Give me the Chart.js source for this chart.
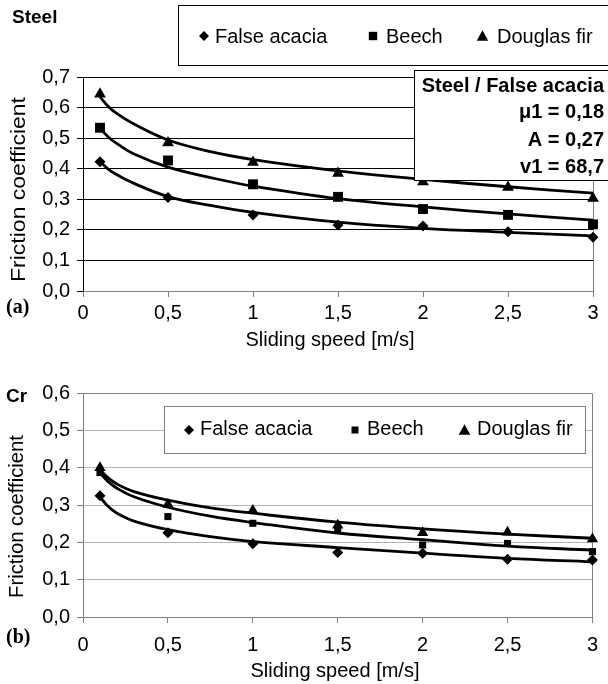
<!DOCTYPE html>
<html>
<head>
<meta charset="utf-8">
<script src="https://cdn.jsdelivr.net/npm/chart.js@4.4.1/dist/chart.umd.min.js"></script>
<style>
  html, body { margin: 0; padding: 0; background: #fff; }
  #wrap { position: relative; width: 608px; height: 684px; }
  canvas { position: absolute; left: 0; }
</style>
</head>
<body>
<div id="wrap">
  <canvas id="steelChart" width="608" height="352" style="top:0"></canvas>
  <canvas id="crChart" width="608" height="332" style="top:352px"></canvas>
</div>
<script>
// measured points
const speeds = [0.1, 0.5, 1, 1.5, 2, 2.5, 3];
const xTicks = [0, 0.5, 1, 1.5, 2, 2.5, 3];
const seriesNames = ['False acacia', 'Beech', 'Douglas fir'];
const seriesMarkers = ['rectRot', 'rect', 'triangle'];

const steelAcacia  = [0.423, 0.306, 0.249, 0.216, 0.213, 0.194, 0.176];
const steelBeech   = [0.534, 0.427, 0.349, 0.308, 0.268, 0.249, 0.218];
const steelDouglas = [0.644, 0.485, 0.421, 0.385, 0.357, 0.339, 0.303];

const crAcacia  = [0.325, 0.226, 0.196, 0.173, 0.171, 0.155, 0.153];
const crBeech   = [0.387, 0.269, 0.251, 0.233, 0.193, 0.197, 0.175];
const crDouglas = [0.400, 0.302, 0.285, 0.246, 0.226, 0.227, 0.209];

// fitted curves at these speeds
const curveSpeeds = [0.1, 0.15, 0.2, 0.3, 0.5, 0.75, 1, 1.5, 2, 2.5, 3];
const steelAcaciaFit  = [0.423, 0.398, 0.380, 0.352, 0.309, 0.280, 0.257, 0.225, 0.205, 0.192, 0.180];
const steelBeechFit   = [0.532, 0.503, 0.482, 0.448, 0.405, 0.371, 0.343, 0.302, 0.275, 0.252, 0.232];
const steelDouglasFit = [0.635, 0.603, 0.580, 0.546, 0.494, 0.456, 0.430, 0.393, 0.365, 0.341, 0.320];
const crAcaciaFit  = [0.322, 0.295, 0.278, 0.257, 0.234, 0.215, 0.202, 0.186, 0.171, 0.157, 0.148];
const crBeechFit   = [0.386, 0.362, 0.345, 0.322, 0.294, 0.270, 0.253, 0.225, 0.207, 0.190, 0.179];
const crDouglasFit = [0.394, 0.372, 0.356, 0.336, 0.313, 0.292, 0.278, 0.254, 0.236, 0.222, 0.211];

const steelYMax = 0.7;
const crYMax = 0.6;
const steelNote = ['Steel / False acacia', 'μ1 = 0,18', 'A = 0,27', 'v1 = 68,7'];

const FONT = '"Liberation Sans", Arial, sans-serif';

function toPoints(xs, ys) {
  return xs.map((x, i) => ({ x: x, y: ys[i] }));
}

function markerSet(values, sizes) {
  return values.map((vals, i) => ({
    label: seriesNames[i],
    data: toPoints(speeds, vals),
    showLine: false,
    pointStyle: seriesMarkers[i],
    pointRadius: sizes[i],
    pointBackgroundColor: '#000',
    pointBorderColor: '#000',
    pointBorderWidth: 0,
    clip: false
  }));
}

function curveSet(values) {
  return values.map((vals, i) => ({
    label: seriesNames[i] + ' fit',
    data: toPoints(curveSpeeds, vals),
    showLine: true,
    pointRadius: 0,
    borderColor: '#000',
    borderWidth: 2.8,
    tension: 0.4,
    clip: false
  }));
}

function drawMarker(ctx, style, x, y, r) {
  ctx.beginPath();
  if (style === 'rectRot') {
    ctx.moveTo(x, y - r); ctx.lineTo(x + r, y); ctx.lineTo(x, y + r); ctx.lineTo(x - r, y);
  } else if (style === 'rect') {
    ctx.rect(x - r, y - r, 2 * r, 2 * r);
  } else {
    ctx.moveTo(x, y - r * 1.05); ctx.lineTo(x + r * 1.05, y + r * 0.85); ctx.lineTo(x - r * 1.05, y + r * 0.85);
  }
  ctx.closePath();
  ctx.fill();
}

function extras(o) {
  return {
    id: 'extras',
    beforeDatasetsDraw(chart) {
      const ctx = chart.ctx, a = chart.chartArea;
      ctx.save();
      ctx.strokeStyle = o.frameColor;
      ctx.lineWidth = 1;
      ctx.beginPath();
      const r = Math.round(a.right) + 0.5;
      ctx.moveTo(r, Math.round(a.top) + 0.5);
      ctx.lineTo(r, Math.round(a.bottom) + 6);
      if (o.topBorder) {
        ctx.moveTo(Math.round(a.left), Math.round(a.top) + 0.5);
        ctx.lineTo(r, Math.round(a.top) + 0.5);
      }
      ctx.stroke();
      ctx.restore();
    },
    afterDatasetsDraw(chart) {
      const ctx = chart.ctx;
      ctx.save();

      // legend box
      const lb = o.legend.box;
      ctx.fillStyle = '#fff';
      ctx.fillRect(lb[0], lb[1], lb[2], lb[3]);
      ctx.strokeStyle = o.legend.border;
      ctx.lineWidth = 1;
      ctx.strokeRect(lb[0] + 0.5, lb[1] + 0.5, lb[2], lb[3]);
      ctx.fillStyle = '#000';
      ctx.font = '20px ' + FONT;
      ctx.textAlign = 'left';
      ctx.textBaseline = 'alphabetic';
      o.legend.items.forEach((it, i) => {
        drawMarker(ctx, seriesMarkers[i], it.mx, o.legend.my, it.r);
        ctx.fillText(seriesNames[i], it.tx, o.legend.ty);
      });

      // note box
      if (o.note) {
        const nb = o.note.box;
        ctx.fillStyle = '#fff';
        ctx.fillRect(nb[0], nb[1], nb[2], nb[3]);
        ctx.strokeStyle = '#000';
        ctx.strokeRect(nb[0] + 0.5, nb[1] + 0.5, nb[2], nb[3]);
        ctx.fillStyle = '#000';
        ctx.font = 'bold 20px ' + FONT;
        ctx.textAlign = 'right';
        o.note.lines.forEach((t, i) => ctx.fillText(t, o.note.x, o.note.ys[i]));
      }

      // corner label and panel tag
      ctx.textAlign = 'left';
      ctx.font = 'bold 19px ' + FONT;
      ctx.fillText(o.corner.text, o.corner.x, o.corner.y);
      ctx.font = 'bold 20px "Liberation Serif", "Times New Roman", serif';
      ctx.fillText(o.tag.text, o.tag.x, o.tag.y);

      // axis titles
      ctx.font = '20px ' + FONT;
      ctx.textAlign = 'center';
      ctx.fillText('Sliding speed [m/s]', o.xTitle.x, o.xTitle.y);
      ctx.translate(o.yTitle.x, o.yTitle.y);
      ctx.rotate(-Math.PI / 2);
      const w = ctx.measureText('Friction coefficient').width;
      ctx.scale(o.yTitle.len / w, 1);
      ctx.fillText('Friction coefficient', 0, 0);
      ctx.restore();
    }
  };
}

function makeChart(id, markers, curves, yMax, o) {
  const ctx = document.getElementById(id).getContext('2d');
  return new Chart(ctx, {
    type: 'scatter',
    data: { datasets: markers.concat(curves) },
    plugins: [extras(o)],
    options: {
      responsive: false,
      animation: false,
      events: [],
      layout: { padding: { left: 0, right: 15, top: o.top, bottom: o.bottom } },
      plugins: { legend: { display: false }, tooltip: { enabled: false } },
      scales: {
        x: {
          type: 'linear', min: 0, max: 3,
          afterBuildTicks: s => { s.ticks = xTicks.map(v => ({ value: v })); },
          afterFit: s => { s.height = o.xh; },
          ticks: {
            color: '#000', font: { family: FONT, size: 20 }, padding: o.xPad, maxRotation: 0,
            callback: v => v === 0 ? '0' : String(v).replace('.', ',')
          },
          grid: { drawOnChartArea: false, drawTicks: true, tickLength: 6, color: o.axisColor },
          border: { display: true, color: o.axisColor, width: 1 }
        },
        y: {
          min: 0, max: yMax,
          afterFit: s => { s.width = 83; },
          ticks: {
            stepSize: 0.1, color: '#000', font: { family: FONT, size: 20 }, padding: 7,
            callback: v => v.toFixed(1).replace('.', ',')
          },
          grid: {
            color: c => (c.tick && c.tick.value === 0) ? o.axisColor : o.gridColor,
            tickColor: o.yAxisColor, tickLength: 6, lineWidth: 1
          },
          border: { display: true, color: o.yAxisColor, width: 1 }
        }
      }
    }
  });
}

makeChart('steelChart',
  markerSet([steelAcacia, steelBeech, steelDouglas], [5.5, 7, 6.8]),
  curveSet([steelAcaciaFit, steelBeechFit, steelDouglasFit]),
  steelYMax,
  {
    top: 77, bottom: 21, xh: 40, xPad: 4,
    axisColor: '#808080', yAxisColor: '#000', gridColor: '#000', frameColor: '#808080', topBorder: false,
    legend: {
      box: [178, 5, 440, 60], border: '#000', my: 36, ty: 43,
      items: [{ mx: 204, tx: 215, r: 5 }, { mx: 373, tx: 386, r: 4.2 }, { mx: 482.5, tx: 497, r: 5.5 }]
    },
    note: { box: [414, 70, 210, 110], x: 604, ys: [92, 118, 146, 173], lines: steelNote },
    corner: { text: 'Steel', x: 12, y: 23 },
    tag: { text: '(a)', x: 6, y: 313 },
    xTitle: { x: 330, y: 346 },
    yTitle: { x: 25, y: 189.5, len: 185 }
  });

makeChart('crChart',
  markerSet([crAcacia, crBeech, crDouglas], [5.5, 5, 6.5]),
  curveSet([crAcaciaFit, crBeechFit, crDouglasFit]),
  crYMax,
  {
    top: 41, bottom: 27, xh: 40, xPad: 10,
    axisColor: '#808080', yAxisColor: '#808080', gridColor: '#b4b4b4', frameColor: '#808080', topBorder: true,
    legend: {
      box: [164, 54, 421, 47], border: '#808080', my: 78, ty: 83,
      items: [{ mx: 189, tx: 200, r: 5 }, { mx: 355, tx: 367, r: 3.5 }, { mx: 464.5, tx: 477, r: 5.5 }]
    },
    corner: { text: 'Cr', x: 6, y: 50 },
    tag: { text: '(b)', x: 6, y: 291 },
    xTitle: { x: 335, y: 325 },
    yTitle: { x: 23, y: 164.5, len: 163 }
  });
</script>
</body>
</html>
